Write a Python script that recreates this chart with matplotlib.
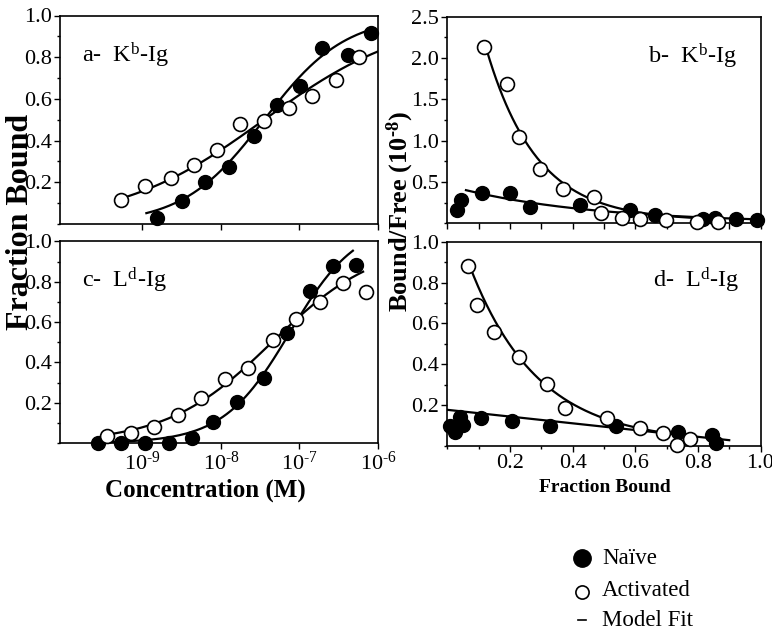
import numpy as np
import matplotlib
matplotlib.use("Agg")
import matplotlib.pyplot as plt
from matplotlib.ticker import FixedLocator, MultipleLocator, NullFormatter

plt.rcParams['font.family'] = ['Liberation Serif', 'DejaVu Serif']
plt.rcParams['mathtext.fontset'] = 'custom'
plt.rcParams['mathtext.rm'] = 'Liberation Serif'
plt.rcParams['mathtext.it'] = 'Liberation Serif:italic'
plt.rcParams['mathtext.bf'] = 'Liberation Serif:bold'

# ---------------- data ----------------
# panel a (Kb-Ig, binding curves): concentration (M) vs fraction bound
a_naive_conc = [1.55e-9, 3.2e-9, 6.2e-9, 1.26e-8, 2.6e-8, 5.1e-8, 1.02e-7, 1.95e-7, 4.1e-7, 8.1e-7]
a_naive_frac = [0.031, 0.112, 0.20, 0.272, 0.42, 0.57, 0.662, 0.843, 0.811, 0.916]
a_act_conc = [5.4e-10, 1.07e-9, 2.3e-9, 4.6e-9, 8.9e-9, 1.74e-8, 3.55e-8, 7.4e-8, 1.45e-7, 2.9e-7, 5.75e-7]
a_act_frac = [0.116, 0.184, 0.219, 0.284, 0.356, 0.478, 0.493, 0.557, 0.613, 0.69, 0.80]

# panel c (Ld-Ig, binding curves)
c_naive_conc = [2.7e-10, 5.4e-10, 1.07e-9, 2.2e-9, 4.3e-9, 7.9e-9, 1.62e-8, 3.5e-8, 6.9e-8, 1.35e-7, 2.7e-7, 5.25e-7]
c_naive_frac = [0.0, 0.0, 0.0, 0.0, 0.026, 0.106, 0.205, 0.325, 0.545, 0.755, 0.876, 0.881]
c_act_conc = [3.55e-10, 7.2e-10, 1.41e-9, 2.8e-9, 5.6e-9, 1.12e-8, 2.24e-8, 4.6e-8, 8.9e-8, 1.82e-7, 3.55e-7, 7.1e-7]
c_act_frac = [0.036, 0.048, 0.081, 0.139, 0.225, 0.316, 0.374, 0.512, 0.616, 0.699, 0.793, 0.749]

# panel b (Kb-Ig, Scatchard): fraction bound vs bound/free (x1e-8)
b_naive_fb = [0.029, 0.042, 0.111, 0.200, 0.264, 0.424, 0.582, 0.662, 0.815, 0.856, 0.923, 0.989]
b_naive_bf = [0.165, 0.280, 0.370, 0.362, 0.192, 0.215, 0.158, 0.098, 0.048, 0.060, 0.047, 0.040]
b_act_fb = [0.117, 0.189, 0.230, 0.296, 0.369, 0.469, 0.491, 0.557, 0.616, 0.697, 0.797, 0.865]
b_act_bf = [2.13, 1.684, 1.047, 0.662, 0.41, 0.32, 0.12, 0.06, 0.051, 0.039, 0.018, 0.018]

# panel d (Ld-Ig, Scatchard)
d_naive_fb = [0.008, 0.024, 0.040, 0.051, 0.106, 0.205, 0.326, 0.539, 0.737, 0.845, 0.859]
d_naive_bf = [0.098, 0.070, 0.143, 0.102, 0.135, 0.123, 0.098, 0.097, 0.069, 0.056, 0.017]
d_act_fb = [0.065, 0.093, 0.150, 0.230, 0.317, 0.376, 0.511, 0.614, 0.689, 0.733, 0.774]
d_act_bf = [0.882, 0.690, 0.559, 0.437, 0.303, 0.184, 0.138, 0.089, 0.066, 0.007, 0.033]

# model-fit parameters
# Hill: (top, log10 EC50, slope, log10 start, log10 end)
a_naive_fit = (1.0, -7.45, 0.84, -8.95, -6.05)
a_act_fit = (1.0, -7.45, 0.47, -9.30, -6.00)
c_naive_fit = (1.1, -7.12, 1.02, -9.55, -6.32)
c_act_fit = (1.0, -7.35, 0.65, -9.44, -6.19)
# exponential decay: (A, k, x0, offset, x end)
b_naive_fit = (0.40, 2.3, 0.059, 0.0, 0.99)
b_act_fit = (2.07, 6.2, 0.125, 0.03, 0.81)
d_act_fit = (0.87, 4.6, 0.070, 0.015, 0.76)
# linear: (intercept, slope, x start, x end)
d_naive_fit = (0.177, -0.165, 0.0, 0.90)

HY = '\u2010'  # short hyphen, as in the original superscripts
panel_labels = ["a-  K$^{\\mathrm{b}}$-Ig", "b-  K$^{\\mathrm{b}}$-Ig",
                "c-  L$^{\\mathrm{d}}$-Ig", "d-  L$^{\\mathrm{d}}$-Ig"]
conc_tick_labels = ['$10^{\\mathrm{' + HY + e + '}}$' for e in ['9', '8', '7', '6']]
legend_labels = ["Naïve", "Activated", "Model Fit"]


def hill_curve(p):
    top, ec, n, lo, hi = p
    lx = np.linspace(lo, hi, 200)
    return 10 ** lx, top / (1 + 10 ** (n * (ec - lx)))


def exp_curve(p):
    A, k, x0, c, hi = p
    x = np.linspace(x0, hi, 200)
    return x, A * np.exp(-k * (x - x0)) + c


W, H = 772, 631
fig = plt.figure(figsize=(W / 100, H / 100), dpi=100)


def px_axes(l, t, r, b):
    return fig.add_axes([l / W, 1 - b / H, (r - l) / W, (b - t) / H])


ax_a = px_axes(60, 15.5, 378, 224)
ax_c = px_axes(60, 241.5, 378, 443)
ax_b = px_axes(447.5, 16.7, 760.5, 223.2)
ax_d = px_axes(447.5, 241.7, 760.5, 446)

MS = 10
LW = 1.6


def style(ax):
    for s in ax.spines.values():
        s.set_linewidth(1.2)
    ax.tick_params(which='both', direction='out', width=1.0, labelsize=16, pad=2)
    ax.tick_params(which='major', length=4)
    ax.tick_params(which='minor', length=2.5)


def scatter(ax, xf, yf, xo, yo):
    ax.plot(xf, yf, 'o', ms=MS, mfc='black', mec='black', mew=1.0, clip_on=False, zorder=3)
    ax.plot(xo, yo, 'o', ms=MS, mfc='white', mec='black', mew=1.2, clip_on=False, zorder=4)


# ---- binding panels ----
for ax, fits, pts, lab in [
    (ax_a, (a_naive_fit, a_act_fit), (a_naive_conc, a_naive_frac, a_act_conc, a_act_frac), panel_labels[0]),
    (ax_c, (c_naive_fit, c_act_fit), (c_naive_conc, c_naive_frac, c_act_conc, c_act_frac), panel_labels[2]),
]:
    for p in fits:
        x, y = hill_curve(p)
        ax.plot(x, y, color='black', lw=LW, zorder=2)
    scatter(ax, *pts)
    ax.set_xscale('log')
    ax.set_xlim(10 ** -10.05, 1e-6)
    ax.set_ylim(0, 1.0)
    ax.xaxis.set_major_locator(FixedLocator([1e-9, 1e-8, 1e-7, 1e-6]))
    ax.xaxis.set_minor_locator(FixedLocator([]))
    ax.yaxis.set_major_locator(FixedLocator([0.2, 0.4, 0.6, 0.8, 1.0]))
    ax.yaxis.set_minor_locator(MultipleLocator(0.1))
    ax.set_yticklabels(['0.2', '0.4', '0.6', '0.8', '1.0'])
    style(ax)
    ax.text(0.07, 0.81, lab, transform=ax.transAxes, fontsize=17.5, va='center', ha='left')

ax_a.xaxis.set_major_formatter(NullFormatter())
ax_c.set_xticklabels(conc_tick_labels)

# ---- Scatchard panels ----
for p in (b_naive_fit, b_act_fit):
    x, y = exp_curve(p)
    ax_b.plot(x, y, color='black', lw=LW, zorder=2)
scatter(ax_b, b_naive_fb, b_naive_bf, b_act_fb, b_act_bf)
ax_b.set_xlim(0, 1.0)
ax_b.set_ylim(0, 2.5)
ax_b.xaxis.set_major_locator(MultipleLocator(0.1))
ax_b.xaxis.set_major_formatter(NullFormatter())
ax_b.yaxis.set_major_locator(FixedLocator([0.5, 1.0, 1.5, 2.0, 2.5]))
ax_b.set_yticklabels(['0.5', '1.0', '1.5', '2.0', '2.5'])
ax_b.yaxis.set_minor_locator(MultipleLocator(0.25))
style(ax_b)
ax_b.text(0.64, 0.81, panel_labels[1], transform=ax_b.transAxes, fontsize=17.5, va='center', ha='left')

x, y = exp_curve(d_act_fit)
ax_d.plot(x, y, color='black', lw=LW, zorder=2)
b0, m, lo, hi = d_naive_fit
xl = np.linspace(lo, hi, 50)
ax_d.plot(xl, b0 + m * xl, color='black', lw=LW, zorder=2)
scatter(ax_d, d_naive_fb, d_naive_bf, d_act_fb, d_act_bf)
ax_d.set_xlim(0, 1.0)
ax_d.set_ylim(0, 1.0)
ax_d.xaxis.set_major_locator(FixedLocator([0.2, 0.4, 0.6, 0.8, 1.0]))
ax_d.set_xticklabels(['0.2', '0.4', '0.6', '0.8', '1.0'])
ax_d.xaxis.set_minor_locator(MultipleLocator(0.1))
ax_d.yaxis.set_major_locator(FixedLocator([0.2, 0.4, 0.6, 0.8, 1.0]))
ax_d.set_yticklabels(['0.2', '0.4', '0.6', '0.8', '1.0'])
ax_d.yaxis.set_minor_locator(MultipleLocator(0.1))
style(ax_d)
ax_d.text(0.655, 0.81, panel_labels[3], transform=ax_d.transAxes, fontsize=17.5, va='center', ha='left')

# ---- axis titles ----
fig.text(21 / W, 1 - 222 / H, 'Fraction Bound', rotation=90, fontsize=23, fontweight='bold',
         ha='center', va='center')
fig.text(400 / W, 1 - 212 / H, 'Bound/Free (10$^{\\mathbf{' + HY + '8}}$)', rotation=90, fontsize=19,
         fontweight='bold', ha='center', va='center')
fig.text(205 / W, 1 - 490 / H, 'Concentration (M)', fontsize=18, fontweight='bold',
         ha='center', va='center')
fig.text(605 / W, 1 - 487 / H, 'Fraction Bound', fontsize=14, fontweight='bold',
         ha='center', va='center')

# ---- legend ----
leg = fig.add_axes([0, 0, 1, 1])
leg.set_xlim(0, W)
leg.set_ylim(H, 0)
leg.axis('off')
leg.plot([582], [558], 'o', ms=12.5, mfc='black', mec='black')
leg.plot([582], [592], 'o', ms=9.5, mfc='white', mec='black', mew=1.2)
leg.plot([578, 586], [620, 620], color='black', lw=1.2)
for yy, t in zip([558, 590, 620], legend_labels):
    leg.text(602, yy, t, fontsize=16.5, va='center', ha='left')

fig.savefig('out.png', dpi=100)
